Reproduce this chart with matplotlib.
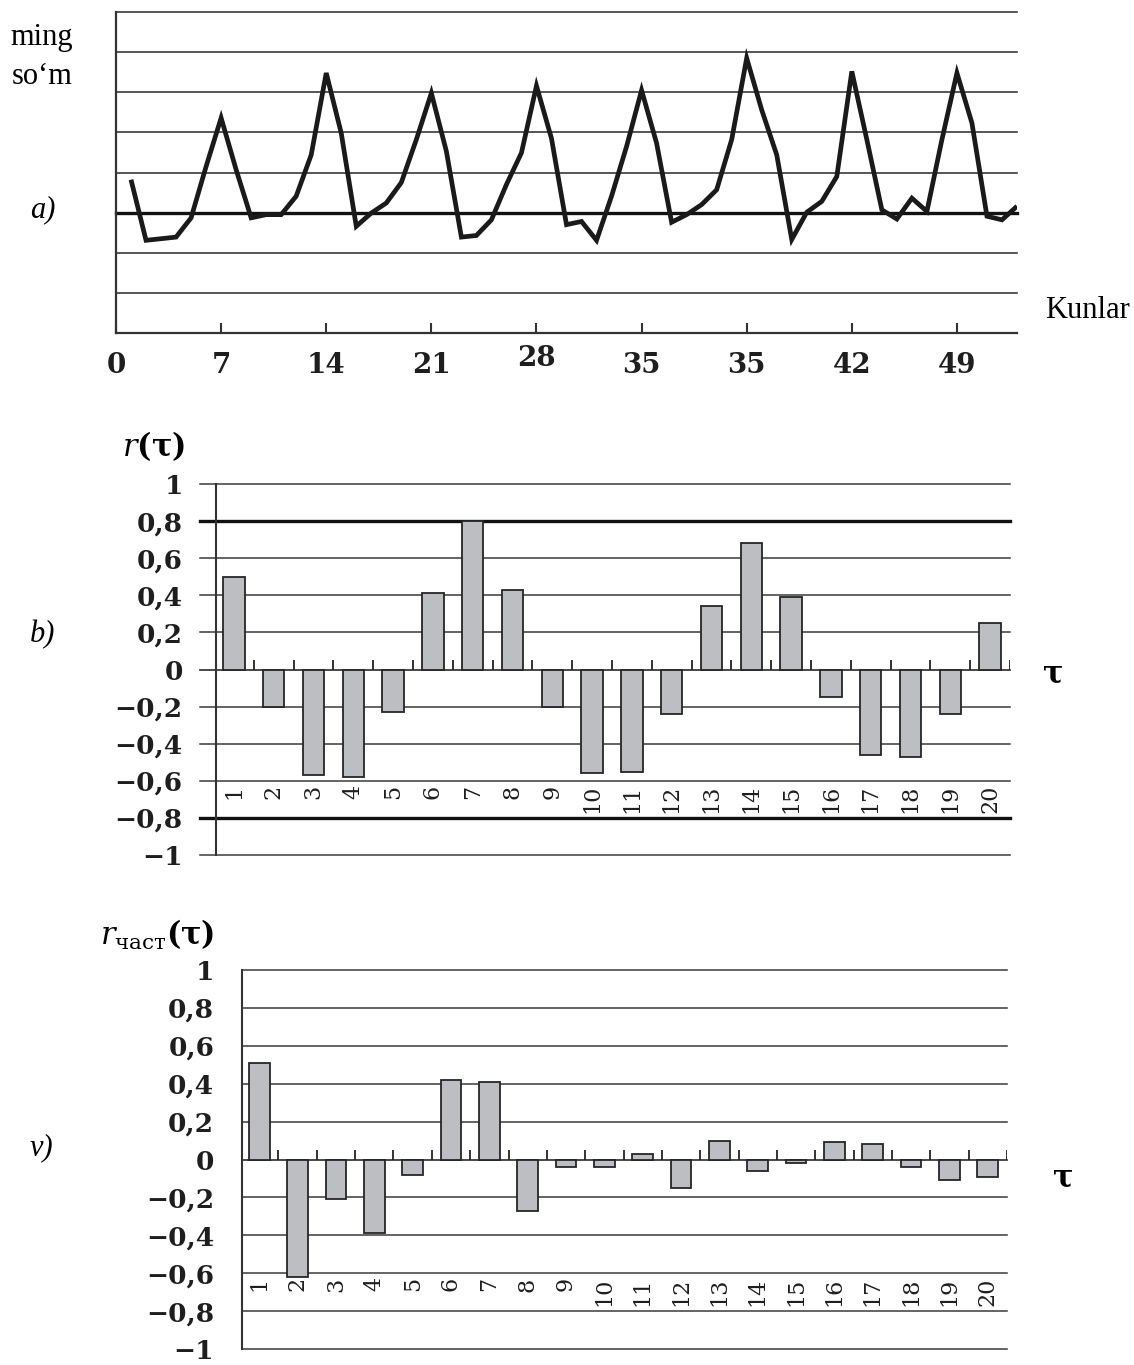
import matplotlib
matplotlib.use("Agg")
import matplotlib.pyplot as plt

# ---------------- data ----------------
days = list(range(1, 61))
sales = [3.82, 2.31, 2.35, 2.39, 2.87, 4.15, 5.36, 4.07, 2.87, 2.95,
         2.95, 3.41, 4.44, 6.48, 4.98, 2.66, 2.99, 3.24, 3.75, 4.82,
         5.98, 4.53, 2.39, 2.43, 2.82, 3.70, 4.49, 6.16, 4.85, 2.70,
         2.78, 2.31, 3.41, 4.65, 6.05, 4.73, 2.76, 2.95, 3.20, 3.57,
         4.82, 6.85, 5.56, 4.44, 2.33, 3.01, 3.28, 3.90, 6.52, 4.82,
         3.07, 2.84, 3.36, 3.03, 4.82, 6.48, 5.23, 2.91, 2.82, 3.16]
a_grid_levels = [1, 2, 3, 4, 5, 6, 7, 8]
a_bold_level = 3
a_tick_pos = [0, 7, 14, 21, 28, 35, 42, 49, 56]
a_tick_labels = ["0", "7", "14", "21", "28", "35", "35", "42", "49"]

lags = list(range(1, 21))
acf = [0.50, -0.20, -0.57, -0.58, -0.23, 0.41, 0.80, 0.43, -0.20, -0.56,
       -0.55, -0.24, 0.34, 0.68, 0.39, -0.15, -0.46, -0.47, -0.24, 0.25]
pacf = [0.51, -0.62, -0.21, -0.39, -0.08, 0.42, 0.41, -0.27, -0.04, -0.04,
        0.03, -0.15, 0.10, -0.06, -0.02, 0.09, 0.08, -0.04, -0.11, -0.09]
r_levels = [1, 0.8, 0.6, 0.4, 0.2, 0, -0.2, -0.4, -0.6, -0.8, -1]
b_bold_levels = [0.8, -0.8]

# ---------------- style ----------------
plt.rcParams["mathtext.fontset"] = "dejavuserif"
SERIF = "DejaVu Serif"
TEXT = "Liberation Serif"
GRID = "#3a3a3a"
BAR = "#bdbec2"
EDGE = "#262626"
LABEL = "#1e1e1e"
W, H = 1134, 1365


def fmt(v):
    s = f"{abs(v):.1f}".replace(".", ",")
    if s.endswith(",0"):
        s = s[:-2]
    return ("\u2212" if v < 0 else "") + s


def box(l, t, r, b):
    return [l / W, 1 - b / H, (r - l) / W, (b - t) / H]


fig = plt.figure(figsize=(W / 100, H / 100), dpi=100)

# ---------------- panel a ----------------
axA = fig.add_axes(box(116, 12, 1017, 333))
for lv in a_grid_levels:
    axA.axhline(lv, color="#111111" if lv == a_bold_level else GRID,
                lw=2.4 if lv == a_bold_level else 1.2, zorder=1, clip_on=False)
axA.plot(days, sales, color="#1a1a1a", lw=3.4, solid_joinstyle="miter",
         solid_capstyle="butt", zorder=3)
axA.set_xlim(0, 60)
axA.set_ylim(0, 8)
for s in ["top", "right"]:
    axA.spines[s].set_visible(False)
for s in ["left", "bottom"]:
    axA.spines[s].set_color("#333333")
    axA.spines[s].set_linewidth(1.6)
axA.set_yticks([])
axA.set_xticks(a_tick_pos)
axA.set_xticklabels(a_tick_labels, fontfamily=SERIF, fontweight="bold",
                    fontsize=20, color=LABEL)
axA.tick_params(axis="x", direction="in", length=7, width=1.5, color="#333333", pad=14)
for lab in axA.get_xticklabels():
    if lab.get_text() == "28":
        lab.set_y(0.022)

fig.text(10 / W, 1 - 38 / H, "ming", fontfamily=TEXT, fontsize=22, ha="left", va="center")
fig.text(12 / W, 1 - 76 / H, "so\u2018m", fontfamily=TEXT, fontsize=22, ha="left", va="center")
fig.text(30 / W, 1 - 210 / H, "a)", fontfamily=TEXT, fontsize=22, style="italic", ha="left", va="center")
fig.text(1045 / W, 1 - 310 / H, "Kunlar", fontfamily=TEXT, fontsize=22, ha="left", va="center")


# ---------------- bar panels ----------------
def bar_panel(ax, vals, bold_levels, tick_out, label_pad):
    for lv in r_levels:
        is_bold = lv in bold_levels
        ax.axhline(lv, xmin=-tick_out, xmax=1,
                   color="#111111" if is_bold else GRID,
                   lw=2.4 if is_bold else (1.3 if lv == 0 else 1.1),
                   zorder=1, clip_on=False)
    ax.bar(lags, vals, width=0.54, color=BAR, edgecolor=EDGE, linewidth=1.3, zorder=3)
    ax.set_xlim(0.55, 20.5)
    ax.set_ylim(-1, 1)
    for s in ["top", "right", "bottom"]:
        ax.spines[s].set_visible(False)
    ax.spines["left"].set_color("#333333")
    ax.spines["left"].set_linewidth(1.5)
    ax.set_yticks(r_levels)
    ax.set_yticklabels([fmt(v) for v in r_levels], fontfamily=SERIF,
                       fontweight="bold", fontsize=19, color=LABEL)
    ax.tick_params(axis="y", length=0, pad=label_pad)
    ax.set_xticks([])
    # boundary ticks on zero line
    bounds = [k + 0.5 for k in lags]
    ax.vlines(bounds, 0, 0.05, color="#222222", lw=1.3, zorder=2)
    for k in lags:
        ax.text(k, -0.622, str(k), rotation=90, ha="center", va="top",
                fontfamily=SERIF, fontsize=16, color=LABEL)


axB = fig.add_axes(box(216, 484, 1010, 855))
bar_panel(axB, acf, b_bold_levels, 16 / 794, 24)
fig.text(122 / W, 1 - 446 / H, r"$r\mathbf{(τ)}$", fontsize=22, ha="left", va="center")
fig.text(1043 / W, 1 - 674 / H, "τ", fontfamily=SERIF, fontweight="bold",
         fontsize=22, ha="left", va="center")
fig.text(30 / W, 1 - 635 / H, "b)", fontfamily=TEXT, fontsize=22, style="italic", ha="left", va="center")

axV = fig.add_axes(box(242, 970, 1007, 1349))
bar_panel(axV, pacf, [], 0, 20)
fig.text(100 / W, 1 - 935 / H, r"$r_{\mathrm{част}}\mathbf{(τ)}$", fontsize=22, ha="left", va="center")
fig.text(1053 / W, 1 - 1178 / H, "τ", fontfamily=SERIF, fontweight="bold",
         fontsize=22, ha="left", va="center")
fig.text(30 / W, 1 - 1148 / H, "v)", fontfamily=TEXT, fontsize=22, style="italic", ha="left", va="center")

fig.savefig("out.png", dpi=100)
